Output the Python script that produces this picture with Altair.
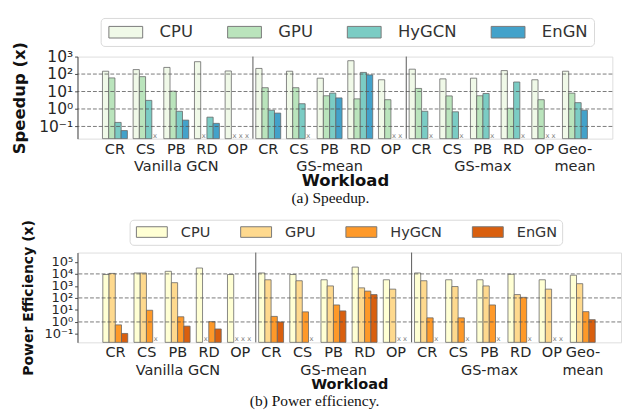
import altair as alt
import pandas as pd

# ---------------- data ----------------
groups = ["Vanilla GCN"] * 5 + ["GS-mean"] * 5 + ["GS-max"] * 5 + ["Geo-mean"]
workloads = ["CR", "CS", "PB", "RD", "OP"] * 3 + ["Geo"]
series = ["CPU", "GPU", "HyGCN", "EnGN"]

speedup_cpu = [145, 180, 240, 510, 150, 210, 145, 58, 580, 47, 190, 53, 58, 158, 47, 145]
speedup_gpu = [60, 71, 10.5, None, None, 16.5, 16.5, 5.7, 3.8, 3.4, 15, 5.6, 5.7, 1.1, 3.4, 8.1]
speedup_hygcn = [0.17, 3.1, 0.74, 0.34, None, 0.85, 2.0, 8.1, 124, None, 0.74, 0.69, 7.7, 35, None, 2.3]
speedup_engn = [0.058, None, 0.23, 0.15, None, 0.58, None, 4.3, 89, None, None, None, None, None, None, 0.85]

power_cpu = [8900, 12000, 16500, 31000, 8900, 12000, 8900, 3250, 37000, 3250, 12000, 3250, 3250, 9400, 3250, 7800]
power_gpu = [11000, 12000, 1860, None, None, 3250, 2700, 1000, 690, 540, 2700, 890, 1000, 190, 540, 1540]
power_hygcn = [0.57, 9.4, 2.7, 1.07, None, 2.9, 6.9, 26, 370, None, 2.2, 2.2, 26, 112, None, 7.2]
power_engn = [0.11, None, 0.45, 0.26, None, 1.0, None, 8.3, 190, None, None, None, None, None, None, 1.55]

speedup_colors = ["#f0f9e8", "#bae4bc", "#7bccc4", "#43a2ca"]
power_colors = ["#ffffd4", "#fed98e", "#fe9929", "#d95f0e"]

speedup_ticks = [0.1, 1, 10, 100, 1000]
speedup_grid = [0.1, 1, 10, 100]
power_ticks = [0.1, 1, 10, 100, 1000, 10000, 100000]
power_grid = [1, 100, 10000]

keys = [f"{g}:{w}" for g, w in zip(groups, workloads)]
divider_keys = [keys[i] for i in range(len(keys) - 1) if groups[i] != groups[i + 1] and groups[i + 1] != "Geo-mean"]


def frame(cols):
    rows = []
    for s, vals in zip(series, cols):
        for k, v in zip(keys, vals):
            rows.append({"key": k, "series": s, "value": v})
    return pd.DataFrame(rows)


SUP = {"-": "\u207b", "0": "\u2070", "1": "\u00b9", "2": "\u00b2", "3": "\u00b3",
       "4": "\u2074", "5": "\u2075"}


def ylabel_expr(ticks):
    import math
    expr = "''"
    for t in ticks:
        e = str(int(round(math.log10(t))))
        lab = "10" + "".join(SUP[c] for c in e)
        expr = f"round(log(datum.value)/LN10) == {int(e)} ? '{lab}' : ({expr})"
    return expr


xlabel_expr = (
    "split(datum.label, ':')[1] == 'PB' ? ['PB', split(datum.label, ':')[0]] : "
    "split(datum.label, ':')[1] == 'Geo' ? ['Geo-', 'mean'] : split(datum.label, ':')[1]"
)

FONT = "DejaVu Sans"


def panel(cols, colors, ydomain, ticks, grid_vals, width, height, ytitle, ytitle_size,
          ylab_size, ytitle_pad, leg, caption, caption_dx, xtitle_size, xlab_size, line_h):
    df = frame(cols)
    bars_df = df[df["value"].notna()]
    miss_df = df[df["value"].isna()]

    xscale = alt.Scale(domain=keys, paddingInner=0, paddingOuter=0.72)
    xaxis = alt.Axis(labelExpr=xlabel_expr, labelAngle=0, labelFontSize=xlab_size, labelFont=FONT,
                     labelColor="#262626", labelLineHeight=line_h, labelPadding=3, ticks=False,
                     domain=False, labelOverlap=False, titleFontSize=xtitle_size, titleFont=FONT,
                     titleFontWeight="bold", titleColor="#111", titlePadding=0)
    x = alt.X("key:N", scale=xscale, axis=xaxis, title="Workload")
    xrule = alt.X("key:N", scale=xscale, axis=xaxis, title="Workload", bandPosition=1)
    xoff = alt.XOffset("series:N", scale=alt.Scale(domain=series, paddingInner=0, paddingOuter=0.46))

    yscale = alt.Scale(type="log", domain=ydomain)
    yaxis = alt.Axis(values=ticks, labelExpr=ylabel_expr(ticks), labelFontSize=ylab_size,
                     labelFont=FONT, labelColor="#262626", labelPadding=2, tickSize=3,
                     tickColor="#444", domainColor="#444", grid=False, labelOverlap=False,
                     titleFontSize=ytitle_size, titleFont=FONT, titleFontWeight="bold",
                     titleColor="#111", titlePadding=ytitle_pad)
    y = alt.Y("value:Q", scale=yscale, axis=yaxis, title=ytitle, stack=None)

    sym_w, sym_h = leg["sym"]
    r = sym_h / 2.0
    right = (sym_w - r) / r
    path = f"M-1,-1L{right:.3f},-1L{right:.3f},1L-1,1Z"
    color = alt.Color(
        "series:N",
        scale=alt.Scale(domain=series, range=colors),
        legend=alt.Legend(title=None, orient="none", legendX=leg["x"], legendY=leg["y"],
                          direction="horizontal", columns=4, symbolType=path,
                          symbolSize=sym_h * sym_h, symbolStrokeColor="#777",
                          symbolStrokeWidth=1, symbolOpacity=1, labelFontSize=leg["font"],
                          labelFont=FONT, labelColor="#333", labelOffset=leg["loff"],
                          columnPadding=leg["colpad"], padding=leg["pad"],
                          strokeColor="#d8d8d8", cornerRadius=4, fillColor="white"),
    )

    bars = alt.Chart(bars_df).mark_bar(stroke="#666", strokeWidth=0.8).encode(
        x=x, xOffset=xoff, y=y, color=color)
    marks = alt.Chart(miss_df).mark_text(text="x", fontSize=7, color="#777", baseline="bottom",
                                         font=FONT).encode(
        x=x, xOffset=xoff, y=alt.value(height))
    grid = alt.Chart(pd.DataFrame({"value": grid_vals})).mark_rule(
        strokeDash=[4, 2], color="#555", strokeWidth=0.8).encode(y=y)
    divs = alt.Chart(pd.DataFrame({"key": divider_keys})).mark_rule(
        color="#555", strokeWidth=1).encode(x=xrule)

    return alt.layer(bars, marks, grid, divs).properties(
        width=width, height=height,
        title=alt.TitleParams(caption, orient="bottom", anchor="middle", dx=caption_dx,
                              font="Liberation Serif", fontSize=16, fontWeight="normal",
                              color="#111", offset=2),
    )


top = panel([speedup_cpu, speedup_gpu, speedup_hygcn, speedup_engn], speedup_colors,
            [0.02, 1000], speedup_ticks, speedup_grid, 554, 85, "Speedup (x)", 17, 16, 11,
            {"x": 24, "y": -40, "font": 17, "sym": (35, 12), "loff": 38, "colpad": 33, "pad": 6},
            "(a) Speedup.", -15, 17, 15, 18)

bottom = panel([power_cpu, power_gpu, power_hygcn, power_engn], power_colors,
               [0.02, 600000], power_ticks, power_grid, 563, 93, "Power Efficiency (x)", 14.5, 13.5, 9,
               {"x": 54, "y": -34, "font": 15, "sym": (32, 11), "loff": 33, "colpad": 29, "pad": 5},
               "(b) Power efficiency.", -36, 15, 15, 18)

chart = alt.vconcat(top, bottom, spacing=12).resolve_scale(
    color="independent", x="independent", y="independent"
).properties(
    padding={"left": 2, "top": 2, "right": 0, "bottom": 0}
).configure_view(stroke="#777", strokeWidth=1).configure(font=FONT)

chart.save("out.html", embed_options={"renderer": "svg", "actions": False})
